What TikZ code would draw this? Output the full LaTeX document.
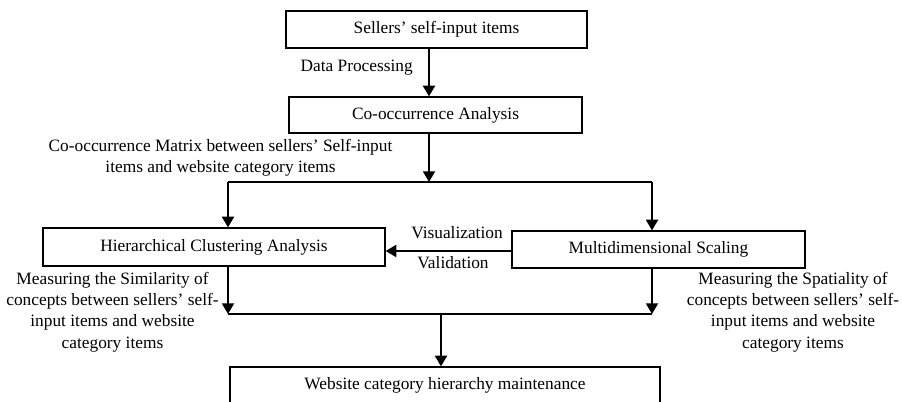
\documentclass[tikz,border=0pt]{standalone}
\usepackage{fontspec}
\setmainfont{Liberation Serif}
\usetikzlibrary{arrows.meta}
\begin{document}
\begin{tikzpicture}[x=0.75pt,y=-0.75pt,
  box/.style={draw,line width=0.9pt,inner sep=0pt,font=\fontsize{13pt}{16pt}\selectfont},
  lbl/.style={inner sep=0pt,align=center,font=\fontsize{13pt}{16pt}\selectfont},
  conn/.style={line width=1.4pt},
  arr/.style={line width=1.4pt,-{Triangle[length=8pt,width=9pt]}}]
\useasboundingbox (0,0) rectangle (902,402);
\node[box,minimum width=225.75pt,minimum height=27.75pt] (b1) at (436.5,29.5) {Sellers’ self-input items};
\node[box,minimum width=219.75pt,minimum height=27pt] (b2) at (435.5,115) {Co-occurrence Analysis};
\node[box,minimum width=256.5pt,minimum height=28.5pt] (hca) at (214,247) {Hierarchical Clustering Analysis};
\node[box,minimum width=219.75pt,minimum height=27.75pt] (mds) at (658.5,249.5) {Multidimensional Scaling};
\node[box,minimum width=322.5pt,minimum height=27pt] (web) at (445,385) {Website category hierarchy maintenance};
\coordinate (c1) at (429,0);
\coordinate (sM) at (429,182);
\coordinate (sL) at (228,182);
\coordinate (sR) at (652,182);
\coordinate (mL) at (228,314);
\coordinate (mR) at (652,314);
\coordinate (mM) at (441,314);
\coordinate (vy) at (0,251);
\draw[arr] (b1.south -| c1) -- (b2.north -| c1);
\draw[arr] (b2.south -| sM) -- (sM);
\draw[conn] (sL) -- (sR);
\draw[arr] (sL) -- (hca.north -| sL);
\draw[arr] (sR) -- (mds.north -| sR);
\draw[arr] (hca.south -| mL) -- (mL);
\draw[arr] (mds.south -| mR) -- (mR);
\draw[conn] (mL) -- (mR);
\draw[arr] (mM) -- (web.north -| mM);
\draw[arr] (mds.west |- vy) -- (hca.east |- vy);
\node[lbl,anchor=east] (dp) at (413,68) {Data Processing};
\node[lbl] (cm) at (220.5,157.5) {Co-occurrence Matrix between sellers’ Self-input\\items and website category items};
\node[lbl] (vis) at (457,233) {Visualization};
\node[lbl] (val) at (453,263) {Validation};
\node[lbl] (sim) at (112.5,312) {Measuring the Similarity of\\concepts between sellers’ self-\\input items and website\\category items};
\node[lbl] (spa) at (793,312) {Measuring the Spatiality of\\concepts between sellers’ self-\\input items and website\\category items};
\end{tikzpicture}
\end{document}
